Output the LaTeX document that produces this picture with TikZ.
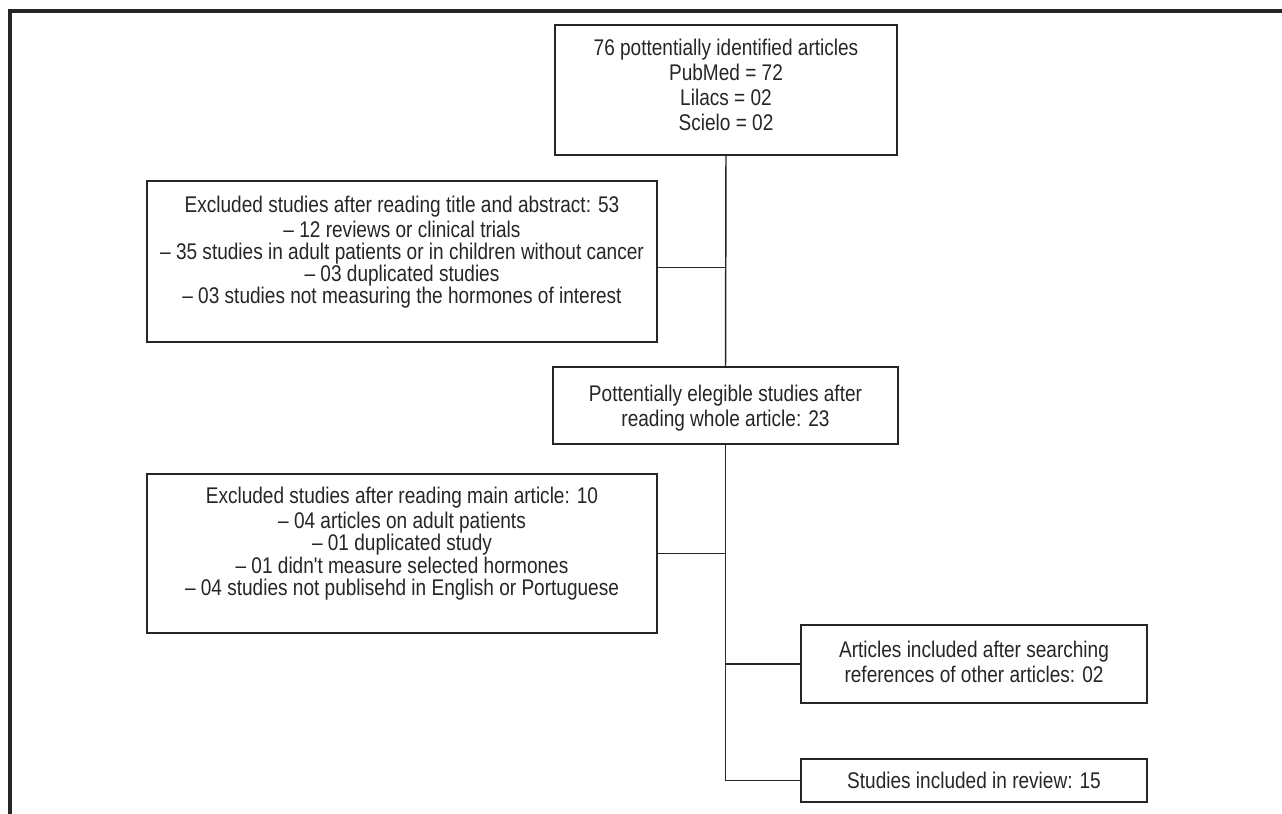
\documentclass[tikz,border=0pt]{standalone}
\usepackage{fontspec}
\setmainfont{Liberation Sans}[FakeStretch=0.84,Ligatures=TeXOff]
\definecolor{ink}{HTML}{262626}
\begin{document}
\begin{tikzpicture}[x=0.75pt,y=-0.75pt,
  box/.style={draw=ink,line width=1.1pt,inner sep=0pt},
  txt/.style={inner sep=0pt,align=center,text=ink,
    font=\fontsize{17pt}{19pt}\selectfont},
  link/.style={draw=ink,line width=1.1pt},
  frame/.style={draw=ink,line width=2.3pt}]
\useasboundingbox (0,0) rectangle (1282,814);
\draw[frame] (10,814) -- (10,11) -- (1282,11);
% boxes
\node[box,minimum width=342*0.75pt,minimum height=130*0.75pt] (b1) at (726,90) {};
\node[box,minimum width=510*0.75pt,minimum height=161*0.75pt] (b2) at (402,261.5) {};
\node[box,minimum width=345*0.75pt,minimum height=77*0.75pt] (b3) at (725.5,405.5) {};
\node[box,minimum width=510*0.75pt,minimum height=159*0.75pt] (b4) at (402,553.5) {};
\node[box,minimum width=346*0.75pt,minimum height=78*0.75pt] (b5) at (974,664) {};
\node[box,minimum width=346*0.75pt,minimum height=43*0.75pt] (b6) at (974,780.5) {};
% texts
\node[txt,font=\fontsize{17pt}{18.75pt}\selectfont] (t1) at ([yshift=3.5pt]b1.center)
  {76 pottentially identified articles\\PubMed = 72\\Lilacs = 02\\Scielo = 02};
\node[txt,font=\fontsize{17pt}{16.5pt}\selectfont] (t2) at ([yshift=7pt]b2.center)
  {Excluded studies after reading title and abstract: 53\\[2pt]
   – 12 reviews or clinical trials\\
   – 35 studies in adult patients or in children without cancer\\
   – 03 duplicated studies\\
   – 03 studies not measuring the hormones of interest};
\node[txt] (t3) at ([yshift=-2pt]b3.center)
  {Pottentially elegible studies after\\reading whole article: 23};
\node[txt,font=\fontsize{17pt}{16.8pt}\selectfont] (t4) at ([yshift=7.5pt]b4.center)
  {Excluded studies after reading main article: 10\\[2pt]
   – 04 articles on adult patients\\
   – 01 duplicated study\\
   – 01 didn't measure selected hormones\\
   – 04 studies not publisehd in English or Portuguese};
\node[txt] (t5) at ([yshift=1.5pt]b5.center)
  {Articles included after searching\\references of other articles: 02};
\node[txt] (t6) at (b6.center) {Studies included in review: 15};
% connectors
\coordinate (end) at (b3.south |- b6.west);
\draw[link] (b1.south) -- (b3.north);
\draw[link] (b3.south) -- (end);
\draw[link] ([yshift=-4.5pt]b2.east) -- ([yshift=-4.5pt]b2.east -| b1.south);
\draw[link] (b4.east) -- (b4.east -| b3.south);
\draw[link] (b5.west) -- (b5.west -| b3.south);
\draw[link] (b6.west) -- (end);
\end{tikzpicture}
\end{document}
